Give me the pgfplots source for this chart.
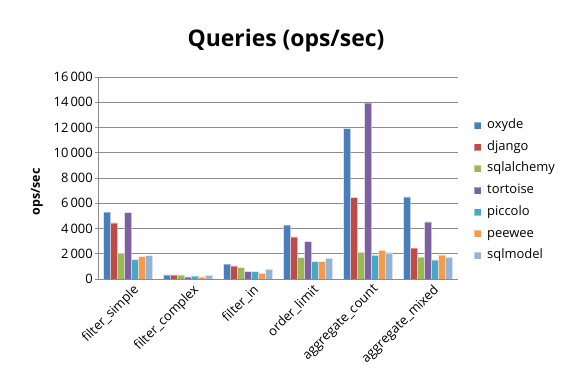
\documentclass[border=0pt]{standalone}
\usepackage{pgfplots}
\pgfplotsset{compat=1.18}
\usepackage{fontspec}
\setmainfont{Open Sans}
\definecolor{cA}{HTML}{4A7EBB}
\definecolor{cB}{HTML}{BE4B48}
\definecolor{cC}{HTML}{98B954}
\definecolor{cD}{HTML}{7D60A0}
\definecolor{cE}{HTML}{46AAC5}
\definecolor{cF}{HTML}{F59B4B}
\definecolor{cG}{HTML}{95B3D7}
\definecolor{gridc}{HTML}{8C8C8C}
\begin{document}
\begin{tikzpicture}
\useasboundingbox[fill=white] (0,0) rectangle (567bp,378bp);
\node[font=\bfseries\fontsize{23}{26}\selectfont] at (286bp,337bp) {Queries (ops/sec)};
\node[font=\bfseries\fontsize{12.5}{14}\selectfont, rotate=90] at (37bp,186bp) {ops/sec};
\begin{axis}[
  at={(98bp,99bp)}, anchor=south west,
  scale only axis, width=360bp, height=202bp,
  ybar=0pt, bar width=7bp,
  xmin=-0.5, xmax=5.5, ymin=0, ymax=16000,
  xtick={0,1,2,3,4,5},
  xticklabels={filter\_simple,filter\_complex,filter\_in,order\_limit,aggregate\_count,aggregate\_mixed},
  xticklabel style={rotate=45, anchor=north east, inner sep=1pt, xshift=3bp, yshift=-3bp, font=\fontsize{13}{15}\selectfont},
  xtick style={draw=none},
  ytick={0,2000,...,16000},
  yticklabel style={font=\fontsize{13}{15}\selectfont, inner sep=2pt},
  /pgf/number format/assume math mode=true,
  /pgf/number format/1000 sep={\,},
  scaled y ticks=false,
  ymajorgrids, grid style={gridc, line width=0.8pt},
  axis x line*=bottom, axis y line*=left,
  axis line style={gridc, line width=0.8pt},
  ytick style={gridc, line width=0.8pt},
  major tick length=3bp,
  tick align=outside,
  legend style={at={(rel axis cs:1.035,0.80)}, anchor=north west, draw=none, fill=none,
    font=\fontsize{13}{15}\selectfont,
    nodes={text height=9bp, text depth=2.5bp, inner sep=0pt},
    row sep=10.2bp, column sep=6bp},
  legend cell align=left,
  legend image code/.code={\fill[#1] (0bp,-3.5bp) rectangle (7bp,3.5bp);},
  every axis plot/.append style={draw=white, draw opacity=0.4, line width=0.4pt},
]
\addplot[fill=cA] coordinates {(0,5300) (1,320) (2,1170) (3,4260) (4,11920) (5,6510)};
\addplot[fill=cB] coordinates {(0,4450) (1,320) (2,1030) (3,3330) (4,6450) (5,2450)};
\addplot[fill=cC] coordinates {(0,2050) (1,320) (2,900) (3,1690) (4,2110) (5,1730)};
\addplot[fill=cD] coordinates {(0,5260) (1,160) (2,580) (3,2960) (4,13950) (5,4530)};
\addplot[fill=cE] coordinates {(0,1530) (1,240) (2,580) (3,1380) (4,1870) (5,1520)};
\addplot[fill=cF] coordinates {(0,1770) (1,160) (2,450) (3,1380) (4,2270) (5,1890)};
\addplot[fill=cG] coordinates {(0,1850) (1,290) (2,770) (3,1630) (4,2080) (5,1710)};
\legend{oxyde,django,sqlalchemy,tortoise,piccolo,peewee,sqlmodel}
\end{axis}
\end{tikzpicture}
\end{document}
